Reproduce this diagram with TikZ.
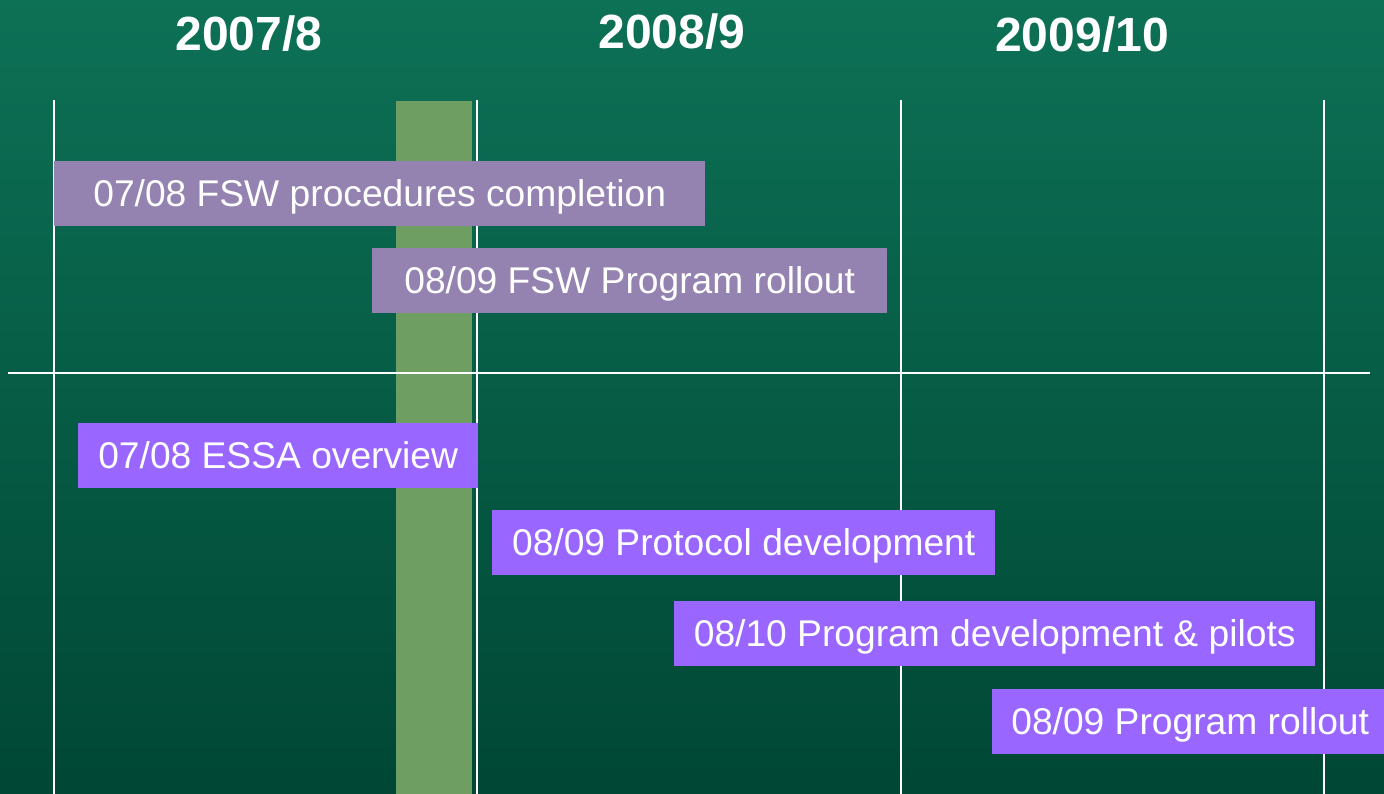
\documentclass[tikz,border=0pt]{standalone}
\usepackage{fontspec}
\setmainfont{Liberation Sans}
\usetikzlibrary{positioning}
\definecolor{bgtop}{RGB}{13,113,86}
\definecolor{bgbottom}{RGB}{0,71,53}
\definecolor{fswpurple}{RGB}{148,131,177}
\definecolor{essapurple}{RGB}{153,102,255}
\definecolor{bandgreen}{RGB}{110,158,98}
\tikzset{
  yearlabel/.style={text=white,font=\fontsize{48}{54}\selectfont\bfseries,inner sep=0pt},
  taskbox/.style={text=white,font=\fontsize{37.2}{40}\selectfont,minimum height=65pt,inner sep=0pt,
    text height=25pt,text depth=0pt,anchor=north west},
  gridline/.style={color=white,line width=2pt}
}
\begin{document}
\begin{tikzpicture}[line cap=butt,line join=miter,x=1pt,y=-1pt]
\useasboundingbox (0,0) rectangle (1384,794);
\shade [top color=bgtop,bottom color=bgbottom] (0,0) rectangle (1384,794);
% years
\node[yearlabel] (y1) at (249,34) {2007/8};
\node[yearlabel] (y2) at (672,32) {2008/9};
\node[yearlabel] (y3) at (1082,35) {2009/10};
% current period
\fill [color=bandgreen] (396,101) rectangle (472,794);
% grid
\draw [gridline] (54,100) -- (54,794);
\draw [gridline] (477,100) -- (477,794);
\draw [gridline] (901,100) -- (901,794);
\draw [gridline] (1324,100) -- (1324,794);
\draw [gridline] (8,373) -- (1370,373);
% FSW tasks
\node[taskbox,fill=fswpurple,minimum width=651pt] (fswdone) at (54,161) {07/08 FSW procedures completion};
\node[taskbox,fill=fswpurple,minimum width=515pt] (fswroll) at (372,248) {08/09 FSW Program rollout};
% ESSA tasks
\node[taskbox,fill=essapurple,minimum width=400pt] (essa) at (78,423) {07/08 ESSA overview};
\node[taskbox,fill=essapurple,minimum width=503pt] (protocol) at (492,510) {08/09 Protocol development};
\node[taskbox,fill=essapurple,minimum width=641pt] (progdev) at (674,601) {08/10 Program development \& pilots};
\node[taskbox,fill=essapurple,minimum width=396pt] (progroll) at (992,689) {08/09 Program rollout};
\end{tikzpicture}
\end{document}
